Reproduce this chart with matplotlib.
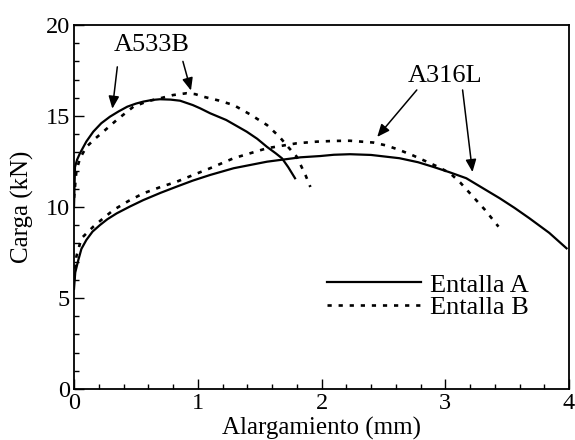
import matplotlib
matplotlib.use("Agg")
import matplotlib.pyplot as plt
from matplotlib.ticker import MultipleLocator

# Entalla A / Entalla B load-elongation curves
a533_a_x = [0.0, 0.008, 0.025, 0.048, 0.10, 0.156, 0.22, 0.29, 0.36, 0.43, 0.50, 0.56, 0.63,
            0.695, 0.78, 0.857, 0.96, 1.02, 1.10, 1.23, 1.395, 1.48, 1.56, 1.63, 1.68, 1.73, 1.786]
a533_a_y = [10.0, 12.2, 12.6, 12.95, 13.6, 14.14, 14.6, 14.96, 15.25, 15.51, 15.68, 15.79, 15.88,
            15.92, 15.9, 15.84, 15.6, 15.42, 15.15, 14.78, 14.14, 13.75, 13.3, 12.95, 12.68, 12.2, 11.58]

a533_b_x = [0.0, 0.02, 0.05, 0.10, 0.17, 0.237, 0.345, 0.48, 0.59, 0.695, 0.80, 0.91, 0.98,
            1.045, 1.17, 1.29, 1.42, 1.56, 1.66, 1.73, 1.80, 1.87, 1.91]
a533_b_y = [10.5, 12.03, 12.7, 13.3, 13.75, 14.14, 14.78, 15.51, 15.8, 15.97, 16.15, 16.25, 16.2,
            16.06, 15.85, 15.6, 15.1, 14.5, 13.86, 13.3, 12.76, 11.76, 11.1]

a316_a_x = [0.0, 0.01, 0.035, 0.06, 0.10, 0.15, 0.21, 0.27, 0.345, 0.45, 0.56, 0.70, 0.83, 0.96,
            1.10, 1.29, 1.56, 1.83, 1.99, 2.10, 2.23, 2.40, 2.63, 2.78, 2.90, 3.03, 3.17, 3.30,
            3.44, 3.56, 3.68, 3.84, 3.98]
a316_a_y = [5.5, 6.4, 7.09, 7.7, 8.19, 8.65, 9.01, 9.33, 9.65, 10.02, 10.38, 10.78, 11.12, 11.45,
            11.76, 12.13, 12.49, 12.73, 12.8, 12.87, 12.9, 12.86, 12.68, 12.46, 12.21, 11.92, 11.58,
            11.05, 10.48, 9.95, 9.38, 8.58, 7.73]

a316_b_x = [0.0, 0.02, 0.06, 0.156, 0.24, 0.32, 0.44, 0.56, 0.70, 0.83, 0.96, 1.10, 1.29, 1.56,
            1.80, 1.96, 2.10, 2.23, 2.42, 2.53, 2.63, 2.74, 2.85, 2.95, 3.04, 3.12, 3.20, 3.32, 3.43]
a316_b_y = [6.0, 7.3, 8.28, 8.92, 9.4, 9.84, 10.33, 10.75, 11.1, 11.39, 11.75, 12.13, 12.68, 13.23,
            13.5, 13.59, 13.63, 13.64, 13.54, 13.37, 13.13, 12.83, 12.49, 12.18, 11.85, 11.35, 10.75,
            9.85, 8.92]

legend_labels = ["Entalla A", "Entalla B"]

# annotation text positions and arrow start/end points (data units)
a533_label = (0.63, 18.9)
a533_arrows = [((0.35, 17.7), (0.31, 15.4)), ((0.88, 18.0), (0.945, 16.4))]
a316_label = (3.0, 17.2)
a316_arrows = [((2.77, 16.43), (2.45, 13.85)), ((3.14, 16.43), (3.22, 11.92))]

plt.rcParams['font.family'] = ['Liberation Serif', 'DejaVu Serif']

fig = plt.figure(figsize=(5.75, 4.4), dpi=100)
ax = fig.add_axes([0.1287, 0.1159, 0.8609, 0.8273])

solid = dict(color='black', lw=1.6, linestyle='-')
dotted = dict(color='black', lw=1.9, linestyle=(0, (1.6, 2.6)))

ax.plot(a533_a_x, a533_a_y, label=legend_labels[0], **solid)
ax.plot(a533_b_x, a533_b_y, label=legend_labels[1], **dotted)
ax.plot(a316_a_x, a316_a_y, **solid)
ax.plot(a316_b_x, a316_b_y, **dotted)

arrow_style = dict(arrowstyle='-|>,head_length=0.75,head_width=0.32', color='black', lw=1.1,
                   shrinkA=0, shrinkB=0)
ax.text(*a533_label, "A533B", fontsize=19, ha='center', va='center')
for start, end in a533_arrows:
    ax.annotate("", xy=end, xytext=start, arrowprops=arrow_style)
ax.text(*a316_label, "A316L", fontsize=19, ha='center', va='center')
for start, end in a316_arrows:
    ax.annotate("", xy=end, xytext=start, arrowprops=arrow_style)

ax.set_xlim(0, 4)
ax.set_ylim(0, 20)
ax.xaxis.set_major_locator(MultipleLocator(1))
ax.xaxis.set_minor_locator(MultipleLocator(0.2))
ax.yaxis.set_major_locator(MultipleLocator(5))
ax.yaxis.set_minor_locator(MultipleLocator(1))
ax.tick_params(which='both', direction='in', top=False, right=False, labelsize=17.5, width=1.0)
ax.tick_params(which='major', length=7, pad=3)
ax.tick_params(which='minor', length=3.5)
for s in ax.spines.values():
    s.set_linewidth(1.3)

ax.set_xlabel("Alargamiento (mm)", fontsize=18, labelpad=2)
ax.set_ylabel("Carga (kN)", fontsize=18, labelpad=8)

leg = ax.legend(loc='center left', bbox_to_anchor=(0.485, 0.2555), frameon=False, fontsize=19,
                handlelength=3.55, handletextpad=0.34, labelspacing=-0.05, borderpad=0)

fig.savefig("out.png", dpi=100)
